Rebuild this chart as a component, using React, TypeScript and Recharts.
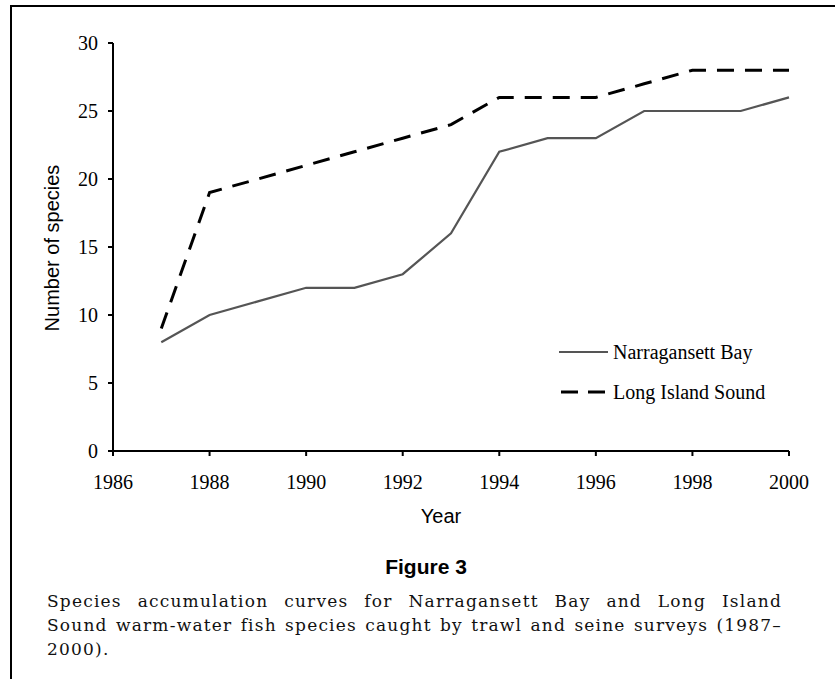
import React from 'react';
import { LineChart, Line, XAxis, YAxis } from 'recharts';

const years = [1987, 1988, 1989, 1990, 1991, 1992, 1993, 1994, 1995, 1996, 1997, 1998, 1999, 2000];
const narragansettBay = [8, 10, 11, 12, 12, 13, 16, 22, 23, 23, 25, 25, 25, 26];
const longIslandSound = [9, 19, 20, 21, 22, 23, 24, 26, 26, 26, 27, 28, 28, 28];
const xTicks = [1986, 1988, 1990, 1992, 1994, 1996, 1998, 2000];
const yTicks = [0, 5, 10, 15, 20, 25, 30];
const seriesNames = ['Narragansett Bay', 'Long Island Sound'];
const xTitle = 'Year';
const yTitle = 'Number of species';
const figureTitle = 'Figure 3';
const captionLines = [
  'Species accumulation curves for Narragansett Bay and Long Island',
  'Sound warm-water fish species caught by trawl and seine surveys (1987–',
  '2000).',
];

const data = years.map((y, i) => ({
  year: y,
  nb: narragansettBay[i],
  lis: longIslandSound[i],
}));

const serif = '"Liberation Serif", "Times New Roman", serif';
const sans = '"Liberation Sans", Arial, sans-serif';

export default function App() {
  return (
    <div style={{ position: 'absolute', left: 0, top: 0, width: 835, height: 679, background: '#fff', overflow: 'hidden' }}>
      <div style={{ position: 'absolute', left: 10, top: 5, width: 840, height: 700, borderLeft: '2px solid #000', borderTop: '2px solid #000' }} />
      <div style={{ position: 'absolute', left: 0, top: 0 }}>
        <LineChart width={835} height={540} data={data} margin={{ top: 43, right: 46, bottom: 49, left: 53 }}>
          <XAxis
            dataKey="year"
            type="number"
            domain={[1986, 2000]}
            ticks={xTicks}
            interval={0}
            stroke="#000"
            strokeWidth={2}
            tickSize={5}
            tickMargin={19}
            height={40}
            tick={{ fontFamily: serif, fontSize: 20, fill: '#000' }}
            tickLine={{ stroke: '#000', strokeWidth: 2 }}
            label={{
              content: () => (
                <text x={441} y={516} textAnchor="middle" dominantBaseline="central" fontFamily={sans} fontSize={20} fill="#000">
                  {xTitle}
                </text>
              ),
            }}
          />
          <YAxis
            type="number"
            domain={[0, 30]}
            ticks={yTicks}
            interval={0}
            width={60}
            stroke="#000"
            strokeWidth={2}
            tickSize={5}
            tickMargin={10}
            tick={{ fontFamily: serif, fontSize: 20, fill: '#000' }}
            tickLine={{ stroke: '#000', strokeWidth: 2 }}
            label={{
              content: () => (
                <text x={52} y={248} textAnchor="middle" dominantBaseline="central" fontFamily={sans} fontSize={20} fill="#000" transform="rotate(-90 52 248)">
                  {yTitle}
                </text>
              ),
            }}
          />
          <Line
            dataKey="nb"
            name={seriesNames[0]}
            stroke="#555"
            strokeWidth={2.2}
            dot={false}
            activeDot={false}
            isAnimationActive={false}
            type="linear"
          />
          <Line
            dataKey="lis"
            name={seriesNames[1]}
            stroke="#000"
            strokeWidth={3}
            strokeDasharray="17 11"
            dot={false}
            activeDot={false}
            isAnimationActive={false}
            type="linear"
          />
        </LineChart>
      </div>
      <div style={{ position: 'absolute', left: 557, top: 340, width: 260, fontFamily: serif, fontSize: 20, color: '#000' }}>
        <div style={{ display: 'flex', alignItems: 'center', height: 24 }}>
          <svg width={54} height={10} style={{ marginRight: 2 }}>
            <line x1={2} y1={5} x2={51} y2={5} stroke="#555" strokeWidth={2} />
          </svg>
          <span>{seriesNames[0]}</span>
        </div>
        <div style={{ display: 'flex', alignItems: 'center', height: 24, marginTop: 16 }}>
          <svg width={54} height={10} style={{ marginRight: 2 }}>
            <line x1={4} y1={5} x2={48} y2={5} stroke="#000" strokeWidth={3} strokeDasharray="17 10" />
          </svg>
          <span>{seriesNames[1]}</span>
        </div>
      </div>
      <div style={{ position: 'absolute', left: 0, width: 852, top: 555, textAlign: 'center', fontFamily: sans, fontWeight: 'bold', fontSize: 21, lineHeight: '24px', color: '#000' }}>
        {figureTitle}
      </div>
      <div style={{ position: 'absolute', left: 47, top: 589, width: 735, fontFamily: '"DejaVu Serif", serif', fontSize: 17, letterSpacing: 1.2, lineHeight: '24px', color: '#111' }}>
        {captionLines.map((l, i) => (
          <div key={i} style={{ textAlign: 'justify', textAlignLast: i < captionLines.length - 1 ? 'justify' : 'left', whiteSpace: 'nowrap' }}>
            {l}
          </div>
        ))}
      </div>
    </div>
  );
}
